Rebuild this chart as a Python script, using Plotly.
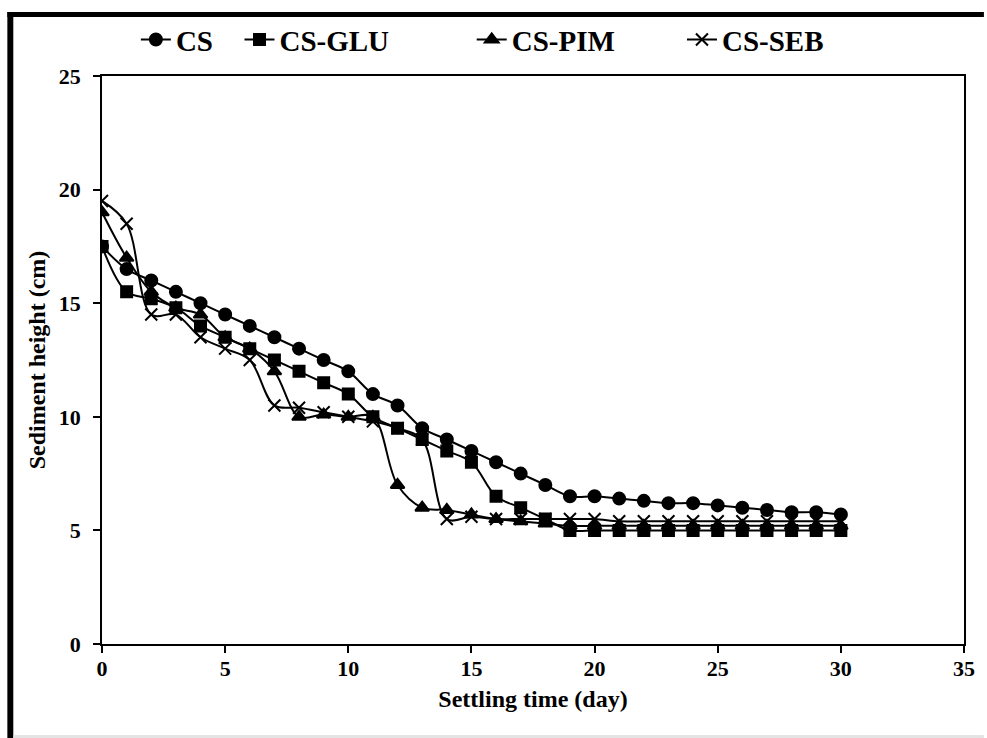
import plotly.graph_objects as go

days = list(range(0, 31))

cs = [17.5, 16.5, 16.0, 15.5, 15.0, 14.5, 14.0, 13.5, 13.0, 12.5, 12.0,
      11.0, 10.5, 9.5, 9.0, 8.5, 8.0, 7.5, 7.0, 6.5, 6.5,
      6.4, 6.3, 6.2, 6.2, 6.1, 6.0, 5.9, 5.8, 5.8, 5.7]
cs_glu = [17.5, 15.5, 15.2, 14.8, 14.0, 13.5, 13.0, 12.5, 12.0, 11.5, 11.0,
          10.0, 9.5, 9.0, 8.5, 8.0, 6.5, 6.0, 5.5, 5.0, 5.0,
          5.0, 5.0, 5.0, 5.0, 5.0, 5.0, 5.0, 5.0, 5.0, 5.0]
cs_pim = [19.0, 17.0, 15.5, 14.8, 14.5, 13.5, 13.0, 12.0, 10.0, 10.1, 10.0,
          10.0, 7.0, 6.0, 5.9, 5.7, 5.5, 5.4, 5.3, 5.2, 5.2,
          5.2, 5.2, 5.2, 5.2, 5.2, 5.2, 5.2, 5.2, 5.2, 5.2]
cs_seb = [19.5, 18.5, 14.5, 14.5, 13.5, 13.0, 12.5, 10.5, 10.4, 10.2, 10.0,
          9.8, 9.5, 9.0, 5.5, 5.6, 5.5, 5.5, 5.5, 5.5, 5.5,
          5.4, 5.4, 5.4, 5.4, 5.4, 5.4, 5.4, 5.4, 5.4, 5.4]

series_names = ["CS", "CS-GLU", "CS-PIM", "CS-SEB"]
series_vals = [cs, cs_glu, cs_pim, cs_seb]
symbols = ["circle", "square", "triangle-up", "x-thin-open"]
sizes = [12, 11, 12, 12]
legend_ids = ["legend", "legend2", "legend3", "legend4"]
legend_x = [0.0393, 0.1595, 0.4289, 0.6728]

FONT = "Liberation Serif, Times New Roman, serif"

fig = go.Figure()
for name, vals, sym, sz, lg in zip(series_names, series_vals, symbols, sizes, legend_ids):
    fig.add_trace(go.Scatter(
        x=days, y=vals, name=name, mode="lines+markers",
        line=dict(color="black", width=2, shape="spline", smoothing=1.0),
        marker=dict(symbol=sym, size=sz, color="black",
                    line=dict(color="black", width=2)),
        legend=lg,
    ))

leg_common = dict(orientation="h", y=1.064, yanchor="middle", xanchor="left",
                  bgcolor="rgba(0,0,0,0)", borderwidth=0, itemwidth=30,
                  font=dict(family=FONT, size=29, color="black", weight="bold"))
layout_legends = {}
for lg, lx in zip(legend_ids, legend_x):
    layout_legends[lg] = dict(leg_common, x=lx)

fig.update_layout(
    width=987, height=738,
    margin=dict(l=102, r=20, t=76, b=94),
    paper_bgcolor="white", plot_bgcolor="white",
    showlegend=True,
    font=dict(family=FONT, color="black"),
    **layout_legends,
)

fig.update_xaxes(
    range=[0, 35], dtick=5, tick0=0, showgrid=False, zeroline=False,
    showline=True, linecolor="black", linewidth=1.5, mirror=True,
    ticks="outside", ticklen=7, tickwidth=1.5, tickcolor="black",
    ticklabelstandoff=-3,
    tickfont=dict(family=FONT, size=22, color="black", weight="bold"),
    title=dict(text="Settling time (day)", standoff=10,
               font=dict(family=FONT, size=24, color="black", weight="bold")),
)
fig.update_yaxes(
    range=[0, 25], dtick=5, tick0=0, showgrid=False, zeroline=False,
    showline=True, linecolor="black", linewidth=1.5, mirror=True,
    ticks="outside", ticklen=7, tickwidth=1.5, tickcolor="black",
    ticklabelstandoff=8,
    tickfont=dict(family=FONT, size=22, color="black", weight="bold"),
    title=dict(text="Sediment height (cm)", standoff=6,
               font=dict(family=FONT, size=24, color="black", weight="bold")),
)

# outer frame (thick left and top border, faint bottom line)
fig.add_shape(type="rect", xref="paper", yref="paper",
              x0=-0.1098, x1=-0.1029, y0=-0.1655, y1=1.1127,
              fillcolor="black", line=dict(width=0), layer="above")
fig.add_shape(type="rect", xref="paper", yref="paper",
              x0=-0.1098, x1=1.0231, y0=1.1039, y1=1.1127,
              fillcolor="black", line=dict(width=0), layer="above")
fig.add_shape(type="rect", xref="paper", yref="paper",
              x0=-0.1029, x1=1.0231, y0=-0.1655, y1=-0.1602,
              fillcolor="#e4e4e4", line=dict(width=0), layer="above")

fig.write_html("out.html")
